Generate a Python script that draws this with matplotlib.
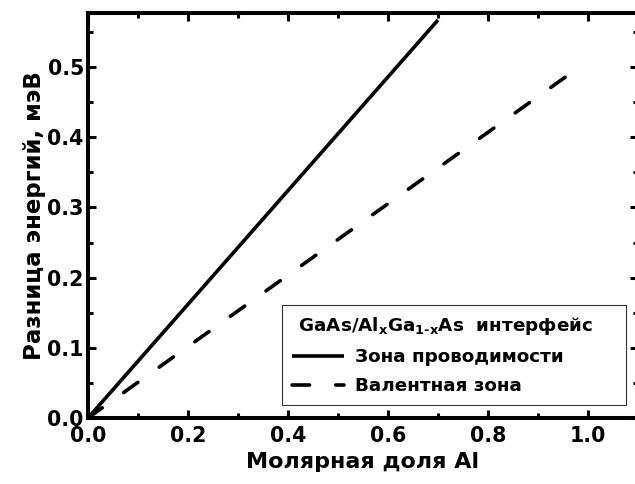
import numpy as np
import matplotlib
matplotlib.use("Agg")
import matplotlib.pyplot as plt
from matplotlib.ticker import MultipleLocator

plt.rcParams['font.family'] = ['DejaVu Sans']
plt.rcParams['font.weight'] = 'bold'
plt.rcParams['mathtext.fontset'] = 'custom'
plt.rcParams['mathtext.rm'] = 'DejaVu Sans:bold'
plt.rcParams['mathtext.it'] = 'DejaVu Sans:bold'
plt.rcParams['mathtext.bf'] = 'DejaVu Sans:bold'
plt.rcParams['lines.scale_dashes'] = False

# band offsets vs Al mole fraction
x_cond = [0.0, 0.70]
y_cond = [0.0, 0.567]
x_val = [0.0, 0.965]
y_val = [0.0, 0.491]

label_cond = "Зона проводимости"
label_val = "Валентная зона"
legend_title = " GaAs/Al$_\\mathregular{x}$Ga$_\\mathregular{1\u2010x}$As  интерфейс"

fig = plt.figure(figsize=(6.35, 4.84), dpi=100)
ax = fig.add_axes([88/635, 66/484, 550/635, 405/484])

ax.plot(x_cond, y_cond, color='black', lw=2.6, solid_capstyle='butt',
        label=label_cond)
ax.plot(x_val, y_val, color='black', lw=2.6, dashes=(12.6, 18.9),
        dash_capstyle='round', label=label_val)

ax.set_xlim(0, 1.1)
ax.set_ylim(0, 0.577)
ax.xaxis.set_major_locator(MultipleLocator(0.2))
ax.xaxis.set_minor_locator(MultipleLocator(0.1))
ax.yaxis.set_major_locator(MultipleLocator(0.1))
ax.yaxis.set_minor_locator(MultipleLocator(0.05))
ax.xaxis.set_major_formatter(plt.FormatStrFormatter('%.1f'))
ax.yaxis.set_major_formatter(plt.FormatStrFormatter('%.1f'))

for s in ax.spines.values():
    s.set_linewidth(2.9)
ax.tick_params(which='both', direction='in', top=True, right=True,
               width=2.2, labelsize=14.8)
ax.tick_params(which='major', length=6)
ax.tick_params(which='minor', length=3.5)
ax.tick_params(axis='x', pad=6)
ax.tick_params(axis='y', pad=3)

ax.set_xlabel("Молярная доля Al", fontsize=16, fontweight='bold', labelpad=4)
ax.set_ylabel("Разница энергий, мэВ", fontsize=16.5, fontweight='bold', labelpad=1)

leg = ax.legend(loc='lower left', bbox_to_anchor=(0.353, 0.032, 0.625, 0.237),
                mode='expand', title=legend_title, alignment='left',
                fontsize=13.2, title_fontsize=13.2, frameon=True, fancybox=False,
                handlelength=2.8, handletextpad=0.6, borderpad=0.55,
                labelspacing=0.6, borderaxespad=0)
leg.get_frame().set_edgecolor('black')
leg.get_frame().set_linewidth(0.8)

fig.savefig("out.png", dpi=100)
